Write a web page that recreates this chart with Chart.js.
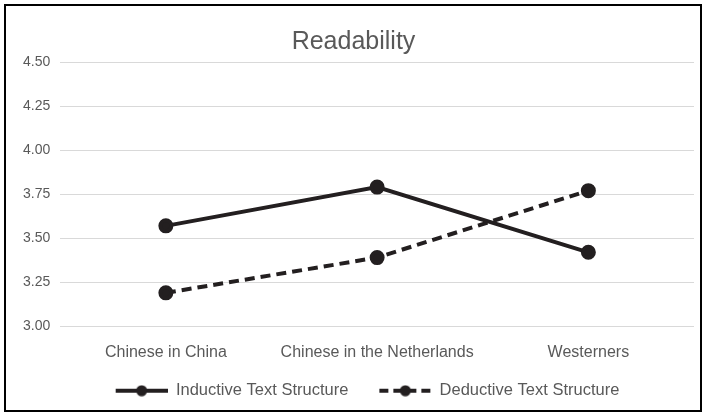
<!DOCTYPE html>
<html>
<head>
<meta charset="utf-8">
<script src="https://cdn.jsdelivr.net/npm/chart.js@4/dist/chart.umd.min.js"></script>
<style>
  html, body { margin: 0; padding: 0; background: #fff; }
  #frame {
    position: absolute; left: 4px; top: 4px;
    width: 694px; height: 404px;
    border: 2px solid #000; background: #fff;
  }
  #frame canvas { display: block; }
</style>
</head>
<body>
<div id="frame"><canvas id="chart" width="694" height="404"></canvas></div>
<script>
const categories = ['Chinese in China', 'Chinese in the Netherlands', 'Westerners'];
const inductive = [3.57, 3.79, 3.42];
const deductive = [3.19, 3.39, 3.77];
const seriesNames = ['Inductive Text Structure', 'Deductive Text Structure'];

const ink = '#231f20';
const textGray = '#595959';
const font = "'Liberation Sans', Arial, sans-serif";

// Legend swatch: a short line segment with a marker in the middle,
// with blank space on the left to separate the legend entries
const SWATCH_GAP = 28;
const SWATCH_LEN = 52;
function swatch(dash) {
  const c = document.createElement('canvas');
  c.width = SWATCH_GAP + SWATCH_LEN; c.height = 12;
  const g = c.getContext('2d');
  g.strokeStyle = ink; g.lineWidth = 4;
  g.setLineDash(dash);
  g.beginPath(); g.moveTo(SWATCH_GAP, 6); g.lineTo(SWATCH_GAP + SWATCH_LEN, 6); g.stroke();
  g.setLineDash([]);
  g.fillStyle = ink;
  g.beginPath(); g.arc(SWATCH_GAP + SWATCH_LEN / 2, 6, 5.5, 0, Math.PI * 2); g.fill();
  return c;
}

const data = {
  labels: categories,
  datasets: [
    {
      label: seriesNames[0],
      data: inductive,
      borderColor: ink, backgroundColor: ink,
      borderWidth: 4, pointRadius: 5.5, pointHoverRadius: 5.5,
      tension: 0,
      legendSwatch: swatch([])
    },
    {
      label: seriesNames[1],
      data: deductive,
      borderColor: ink, backgroundColor: ink,
      borderWidth: 4, borderDash: [10, 6], pointRadius: 5.5, pointHoverRadius: 5.5,
      tension: 0,
      legendSwatch: swatch([9, 5])
    }
  ]
};

new Chart(document.getElementById('chart'), {
  type: 'line',
  data,
  options: {
    responsive: false,
    animation: false,
    layout: { autoPadding: false, padding: { left: 7, right: 6, top: 13, bottom: 1 } },
    plugins: {
      title: {
        display: true, text: 'Readability',
        color: textGray,
        font: { family: font, size: 25, weight: 'normal' },
        padding: { top: 8, bottom: 5 }
      },
      legend: {
        position: 'bottom',
        labels: {
          usePointStyle: true,
          pointStyleWidth: SWATCH_GAP + SWATCH_LEN,
          boxHeight: 12,
          color: textGray,
          font: { family: font, size: 16.5 },
          padding: 3,
          generateLabels(chart) {
            return chart.data.datasets.map((ds, i) => ({
              text: ds.label,
              pointStyle: ds.legendSwatch,
              fontColor: textGray,
              strokeStyle: ink, fillStyle: ink,
              lineWidth: 0,
              hidden: false,
              datasetIndex: i
            }));
          }
        }
      },
      tooltip: { enabled: false }
    },
    scales: {
      x: {
        offset: true,
        grid: { display: false, drawTicks: false },
        border: { display: false },
        ticks: { color: textGray, font: { family: font, size: 16 }, padding: 17 }
      },
      y: {
        min: 3.0, max: 4.5,
        grid: { color: '#d9d9d9', lineWidth: 1, drawTicks: false },
        border: { display: false },
        ticks: {
          stepSize: 0.25,
          color: textGray,
          font: { family: font, size: 14 },
          padding: 10,
          callback: v => v.toFixed(2)
        }
      }
    }
  }
});
</script>
</body>
</html>
